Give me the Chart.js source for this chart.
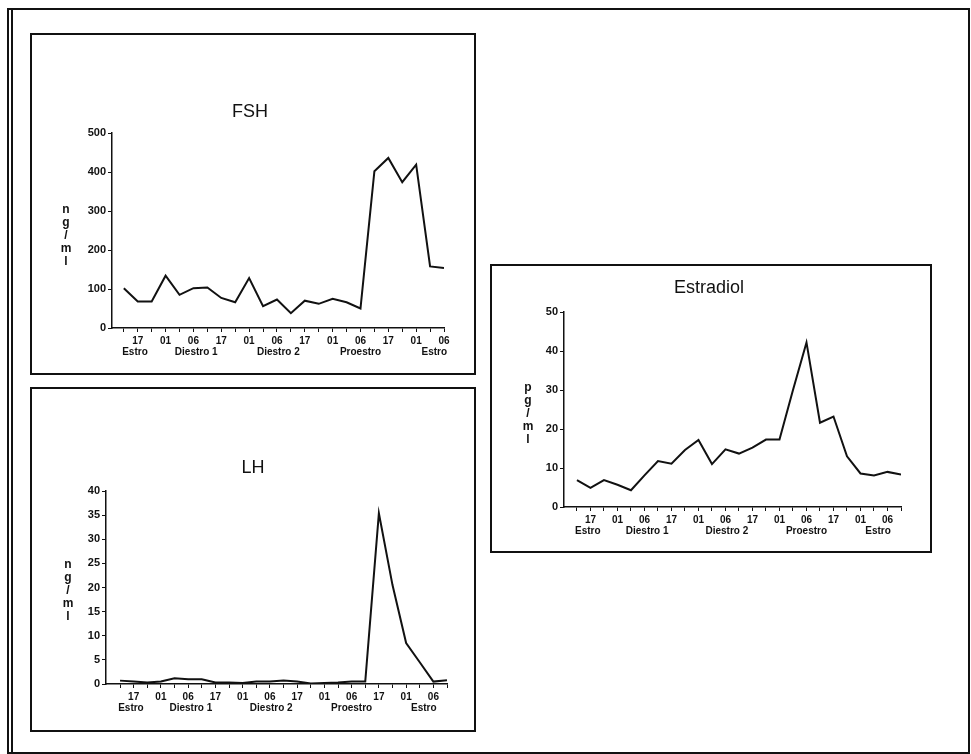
<!DOCTYPE html>
<html lang="es">
<head>
<meta charset="UTF-8">
<title>FSH, LH y Estradiol</title>
<script src="https://cdn.jsdelivr.net/npm/chart.js"></script>
<style>
    body {
        margin: 0;
        width: 971px;
        height: 754px;
        position: relative;
        overflow: hidden;
        background: #fff;
    }
    .frame {
        position: absolute;
        border: 2px solid #111;
        box-sizing: border-box;
        pointer-events: none;
    }
    canvas {
        position: absolute;
    }
</style>
</head>
<body>
<div class="frame" style="left:7px;top:8px;width:963px;height:746px"></div>
<div class="frame" style="left:11px;top:10px;width:2px;height:742px;border-width:0 0 0 2px"></div>
<canvas id="fshChart"></canvas>
<canvas id="lhChart"></canvas>
<canvas id="e2Chart"></canvas>

<script>
    // values
    const hourLabels = ['', '17', '', '01', '', '06', '', '17', '', '01', '', '06', '',
                        '17', '', '01', '', '06', '', '17', '', '01', '', '06', ''];
    const phaseNames = ['Estro', 'Diestro 1', 'Diestro 2', 'Proestro', 'Estro'];
    const phaseCenters = [0.8, 5.2, 11.1, 17.0, 22.3];

    const fshValues = [102, 68, 68, 134, 85, 102, 104, 77, 66, 128, 56, 73,
                       38, 70, 62, 75, 66, 50, 402, 436, 374, 419, 158, 154];
    const lhValues = [0.7, 0.5, 0.3, 0.5, 1.2, 1.0, 1.0, 0.3, 0.3, 0.2, 0.5, 0.5,
                      0.7, 0.5, 0.1, 0.2, 0.3, 0.5, 0.5, 35.4, 20.5, 8.5, 4.5, 0.5, 0.8];
    const e2Values = [6.9, 4.9, 6.9, 5.7, 4.3, 8.1, 11.8, 11.1, 14.6, 17.2, 11.0, 14.8,
                      13.7, 15.2, 17.3, 17.3, 30.0, 42.2, 21.6, 23.2, 13.0, 8.6, 8.1, 9.0, 8.3];

    const FONT = '"Liberation Sans", Arial, sans-serif';
    const INK = '#111';
    const Y_W = 30, X_H = 24;

    const panelText = {
        id: 'panelText',
        afterDraw(chart, args, o) {
            const { ctx, chartArea: ca } = chart;
            const x = chart.scales.x;
            ctx.save();
            ctx.fillStyle = INK;
            ctx.textAlign = 'center';
            ctx.textBaseline = 'middle';
            ctx.font = '18px ' + FONT;
            ctx.fillText(o.title, o.titleX, o.titleY);

            ctx.font = 'bold 12px ' + FONT;
            const cy = (ca.top + ca.bottom) / 2 + o.unitDy;
            o.unit.split('').forEach((ch, i) => {
                ctx.fillText(ch, ca.left - o.unitDx, cy + (i - 2) * 13);
            });

            ctx.font = 'bold 10px ' + FONT;
            phaseNames.forEach((p, i) => {
                ctx.fillText(p, x.getPixelForValue(phaseCenters[i]), ca.bottom + 24);
            });
            ctx.restore();
        }
    };

    function makePanel(id, box, area, values, yMax, yStep, xMin, text) {
        const cv = document.getElementById(id);
        cv.width = box.r - box.l;
        cv.height = box.b - box.t;
        cv.style.left = box.l + 'px';
        cv.style.top = box.t + 'px';

        const border = document.createElement('div');
        border.className = 'frame';
        border.style.cssText = `left:${box.l}px;top:${box.t}px;width:${cv.width}px;height:${cv.height}px`;
        document.body.appendChild(border);

        const n = values.length;
        new Chart(cv.getContext('2d'), {
            type: 'line',
            data: {
                datasets: [{
                    data: values.map((v, i) => ({ x: i, y: v })),
                    borderColor: INK,
                    borderWidth: 2,
                    pointRadius: 0,
                    tension: 0
                }]
            },
            options: {
                responsive: false,
                animation: false,
                layout: {
                    padding: {
                        left: area.l - box.l - Y_W,
                        top: area.t - box.t,
                        right: box.r - area.r,
                        bottom: box.b - area.b - X_H
                    }
                },
                plugins: {
                    legend: { display: false },
                    tooltip: { enabled: false },
                    panelText: text
                },
                scales: {
                    x: {
                        type: 'linear',
                        min: xMin,
                        max: n - 1,
                        afterBuildTicks: s => { s.ticks = values.map((_, i) => ({ value: i })); },
                        afterFit: s => { s.height = X_H; },
                        grid: { drawOnChartArea: false, color: INK, tickLength: 4 },
                        border: { color: INK, width: 1.5 },
                        ticks: {
                            autoSkip: false,
                            maxRotation: 0,
                            padding: 3,
                            color: INK,
                            font: { family: FONT, size: 10, weight: 'bold' },
                            callback: v => hourLabels[v] || ''
                        }
                    },
                    y: {
                        min: 0,
                        max: yMax,
                        afterFit: s => { s.width = Y_W; },
                        grid: { drawOnChartArea: false, color: INK, tickLength: 4 },
                        border: { color: INK, width: 1.5 },
                        ticks: {
                            stepSize: yStep,
                            padding: 2,
                            color: INK,
                            font: { family: FONT, size: 11, weight: 'bold' }
                        }
                    }
                }
            },
            plugins: [panelText]
        });
    }

    makePanel('fshChart',
        { l: 30, t: 33, r: 476, b: 375 }, { l: 112, t: 133, r: 444, b: 328 },
        fshValues, 500, 100, -0.85,
        { title: 'FSH', titleX: 220, titleY: 79, unit: 'ng/ml', unitDx: 46, unitDy: 5 });

    makePanel('lhChart',
        { l: 30, t: 387, r: 476, b: 732 }, { l: 106, t: 491, r: 447, b: 684 },
        lhValues, 40, 5, -1.03,
        { title: 'LH', titleX: 223, titleY: 81, unit: 'ng/ml', unitDx: 38, unitDy: 3 });

    makePanel('e2Chart',
        { l: 490, t: 264, r: 932, b: 553 }, { l: 564, t: 312, r: 901, b: 507 },
        e2Values, 50, 10, -0.96,
        { title: 'Estradiol', titleX: 219, titleY: 24, unit: 'pg/ml', unitDx: 36, unitDy: 4 });
</script>
</body>
</html>
